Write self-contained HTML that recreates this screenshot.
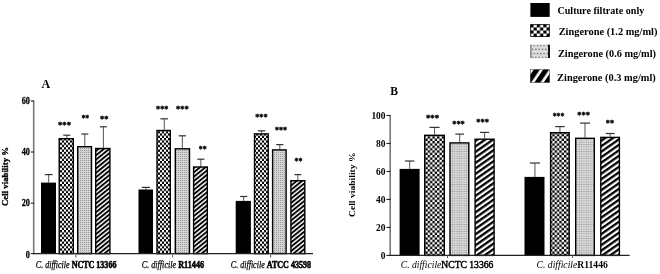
<!DOCTYPE html>
<html><head><meta charset="utf-8"><style>
html,body{margin:0;padding:0;background:#fff;}
body{width:660px;height:274px;overflow:hidden;font-family:"Liberation Serif",serif;}
svg{display:block;filter:blur(0.3px);}
</style></head><body>
<svg width="660" height="274" viewBox="0 0 660 274" font-family="Liberation Serif, serif">
<defs>
<pattern id="chkA" patternUnits="userSpaceOnUse" width="4" height="4.6" x="0" y="0"><rect width="4" height="4.6" fill="#fff"/><rect width="2" height="2.3" fill="#000"/><rect x="2" y="2.3" width="2" height="2.3" fill="#000"/></pattern>
<pattern id="chkB" patternUnits="userSpaceOnUse" width="4.7" height="4.7" x="0" y="0"><rect width="4.7" height="4.7" fill="#fff"/><rect width="2.35" height="2.35" fill="#000"/><rect x="2.35" y="2.35" width="2.35" height="2.35" fill="#000"/></pattern>
<pattern id="chkL" patternUnits="userSpaceOnUse" width="6.5" height="6.2" x="530.3" y="24.3"><rect width="6.5" height="6.2" fill="#fff"/><rect width="3.25" height="3.1" fill="#000"/><rect x="3.25" y="3.1" width="3.25" height="3.1" fill="#000"/></pattern>
<pattern id="dotA" patternUnits="userSpaceOnUse" width="2" height="2"><rect width="2" height="2" fill="#d4d4d4"/><rect width="1" height="1" fill="#9a9a9a"/></pattern>
<pattern id="dotB" patternUnits="userSpaceOnUse" width="2.35" height="2.35"><rect width="2.35" height="2.35" fill="#d9d9d9"/><circle cx="1.17" cy="1.17" r="0.62" fill="#8a8a8a"/></pattern>
<pattern id="dotL" patternUnits="userSpaceOnUse" width="3.3" height="8.2" x="530.2" y="44.6"><rect width="3.3" height="8.2" fill="#dedede"/><rect width="1.4" height="1.4" fill="#6a6a6a"/><rect x="1.65" y="4.1" width="1.4" height="1.4" fill="#6a6a6a"/></pattern>
<pattern id="strA" patternUnits="userSpaceOnUse" width="3.4" height="3.4" patternTransform="rotate(51)"><rect width="3.4" height="3.4" fill="#fff"/><rect width="1.9" height="3.4" fill="#000"/></pattern>
<pattern id="strB" patternUnits="userSpaceOnUse" width="4.5" height="4.5" patternTransform="rotate(55)"><rect width="4.5" height="4.5" fill="#fff"/><rect width="2.3" height="4.5" fill="#000"/></pattern>
<pattern id="strL" patternUnits="userSpaceOnUse" width="7.7" height="7.7" x="543.2" y="69.4" patternTransform="rotate(34 543.2 69.4)"><rect width="7.7" height="7.7" fill="#fff"/><rect width="5.1" height="7.7" fill="#000"/></pattern>
</defs>
<rect width="660" height="274" fill="#fff"/>
<g>
<line x1="48.7" y1="182.6" x2="48.7" y2="174.6" stroke="#555" stroke-width="1.0"/>
<line x1="44.8" y1="174.6" x2="52.6" y2="174.6" stroke="#333" stroke-width="1.2"/>
<rect x="41" y="182.6" width="15" height="71" fill="#000"/>
<line x1="66.8" y1="138" x2="66.8" y2="135.2" stroke="#555" stroke-width="1.0"/>
<line x1="63.3" y1="135.2" x2="70.3" y2="135.2" stroke="#333" stroke-width="1.2"/>
<rect x="59.2" y="138.7" width="14.1" height="114.9" fill="url(#chkA)" stroke="#000" stroke-width="1.4"/>
<text x="58" y="127.63" font-size="8.6" font-weight="bold" stroke="#000" stroke-width="0.35" textLength="13.1" lengthAdjust="spacingAndGlyphs">***</text>
<line x1="84.8" y1="146" x2="84.8" y2="134" stroke="#555" stroke-width="1.0"/>
<line x1="81.3" y1="134" x2="88.3" y2="134" stroke="#333" stroke-width="1.2"/>
<rect x="77.7" y="146.7" width="13.8" height="106.9" fill="url(#dotA)" stroke="#000" stroke-width="1.4"/>
<text x="81.4" y="120.63" font-size="8.6" font-weight="bold" stroke="#000" stroke-width="0.35" textLength="7.8" lengthAdjust="spacingAndGlyphs">**</text>
<line x1="103.4" y1="147.8" x2="103.4" y2="126.8" stroke="#555" stroke-width="1.0"/>
<line x1="99.9" y1="126.8" x2="106.9" y2="126.8" stroke="#333" stroke-width="1.2"/>
<rect x="95.7" y="148.5" width="14.2" height="105.1" fill="url(#strA)" stroke="#000" stroke-width="1.4"/>
<text x="100" y="121.73" font-size="8.6" font-weight="bold" stroke="#000" stroke-width="0.35" textLength="8.5" lengthAdjust="spacingAndGlyphs">**</text>
<line x1="145.9" y1="189.5" x2="145.9" y2="187.4" stroke="#555" stroke-width="1.0"/>
<line x1="141.8" y1="187.4" x2="150" y2="187.4" stroke="#333" stroke-width="1.2"/>
<rect x="138.5" y="189.5" width="14.5" height="64.1" fill="#000"/>
<line x1="164.25" y1="129.8" x2="164.25" y2="118.8" stroke="#555" stroke-width="1.0"/>
<line x1="160.4" y1="118.8" x2="168.1" y2="118.8" stroke="#333" stroke-width="1.2"/>
<rect x="157" y="130.5" width="13.3" height="123.1" fill="url(#chkA)" stroke="#000" stroke-width="1.4"/>
<text x="156" y="111.93" font-size="8.6" font-weight="bold" stroke="#000" stroke-width="0.35" textLength="12.4" lengthAdjust="spacingAndGlyphs">***</text>
<line x1="182.35" y1="148.1" x2="182.35" y2="135.8" stroke="#555" stroke-width="1.0"/>
<line x1="178.7" y1="135.8" x2="186" y2="135.8" stroke="#333" stroke-width="1.2"/>
<rect x="175.3" y="148.8" width="14.2" height="104.8" fill="url(#dotA)" stroke="#000" stroke-width="1.4"/>
<text x="175.9" y="112.13" font-size="8.6" font-weight="bold" stroke="#000" stroke-width="0.35" textLength="12.8" lengthAdjust="spacingAndGlyphs">***</text>
<line x1="200.85" y1="166.3" x2="200.85" y2="159.2" stroke="#555" stroke-width="1.0"/>
<line x1="197.3" y1="159.2" x2="204.4" y2="159.2" stroke="#333" stroke-width="1.2"/>
<rect x="193.6" y="167" width="13.7" height="86.6" fill="url(#strA)" stroke="#000" stroke-width="1.4"/>
<text x="198.7" y="152.43" font-size="8.6" font-weight="bold" stroke="#000" stroke-width="0.35" textLength="7.9" lengthAdjust="spacingAndGlyphs">**</text>
<line x1="243.65" y1="200.9" x2="243.65" y2="196.5" stroke="#555" stroke-width="1.0"/>
<line x1="240.1" y1="196.5" x2="247.2" y2="196.5" stroke="#333" stroke-width="1.2"/>
<rect x="235.7" y="200.9" width="15.2" height="52.7" fill="#000"/>
<line x1="261.6" y1="133.2" x2="261.6" y2="130.8" stroke="#555" stroke-width="1.0"/>
<line x1="257.9" y1="130.8" x2="265.3" y2="130.8" stroke="#333" stroke-width="1.2"/>
<rect x="254.5" y="133.9" width="13.7" height="119.7" fill="url(#chkA)" stroke="#000" stroke-width="1.4"/>
<text x="255.2" y="119.73" font-size="8.6" font-weight="bold" stroke="#000" stroke-width="0.35" textLength="12.5" lengthAdjust="spacingAndGlyphs">***</text>
<line x1="279.8" y1="149.2" x2="279.8" y2="144.6" stroke="#555" stroke-width="1.0"/>
<line x1="276.2" y1="144.6" x2="283.4" y2="144.6" stroke="#333" stroke-width="1.2"/>
<rect x="272.6" y="149.9" width="13.5" height="103.7" fill="url(#dotA)" stroke="#000" stroke-width="1.4"/>
<text x="274.9" y="132.83" font-size="8.6" font-weight="bold" stroke="#000" stroke-width="0.35" textLength="12.1" lengthAdjust="spacingAndGlyphs">***</text>
<line x1="297.85" y1="180" x2="297.85" y2="174.6" stroke="#555" stroke-width="1.0"/>
<line x1="294.4" y1="174.6" x2="301.3" y2="174.6" stroke="#333" stroke-width="1.2"/>
<rect x="290.9" y="180.7" width="13.9" height="72.9" fill="url(#strA)" stroke="#000" stroke-width="1.4"/>
<text x="294.5" y="164.43" font-size="8.6" font-weight="bold" stroke="#000" stroke-width="0.35" textLength="8" lengthAdjust="spacingAndGlyphs">**</text>
<line x1="33.7" y1="100.5" x2="33.7" y2="254.1" stroke="#777" stroke-width="1.6"/>
<line x1="33" y1="253.6" x2="313" y2="253.6" stroke="#222" stroke-width="1.1"/>
<line x1="30.8" y1="101" x2="34" y2="101" stroke="#222" stroke-width="1.1"/>
<text transform="translate(29.9,103.87) scale(0.86,1)" font-size="9.6" font-weight="bold" stroke="#000" stroke-width="0.25" text-anchor="end">60</text>
<line x1="30.8" y1="152" x2="34" y2="152" stroke="#222" stroke-width="1.1"/>
<text transform="translate(29.9,154.87) scale(0.86,1)" font-size="9.6" font-weight="bold" stroke="#000" stroke-width="0.25" text-anchor="end">40</text>
<line x1="30.8" y1="203.2" x2="34" y2="203.2" stroke="#222" stroke-width="1.1"/>
<text transform="translate(29.9,206.07) scale(0.86,1)" font-size="9.6" font-weight="bold" stroke="#000" stroke-width="0.25" text-anchor="end">20</text>
<line x1="30.8" y1="253.6" x2="34" y2="253.6" stroke="#222" stroke-width="1.1"/>
<text transform="translate(29.9,257.67) scale(0.86,1)" font-size="9.6" font-weight="bold" stroke="#000" stroke-width="0.25" text-anchor="end">0</text>
<line x1="75.8" y1="253.6" x2="75.8" y2="257.4" stroke="#555" stroke-width="1"/>
<line x1="172.7" y1="253.6" x2="172.7" y2="257.4" stroke="#555" stroke-width="1"/>
<line x1="270.6" y1="253.6" x2="270.6" y2="257.4" stroke="#555" stroke-width="1"/>
<text x="41.6" y="87.6" font-size="12" font-weight="bold">A</text>
<text transform="translate(8.2,206) rotate(-90)" font-size="7.6" font-weight="bold" stroke="#000" stroke-width="0.3" textLength="59" lengthAdjust="spacingAndGlyphs">Cell viability %</text>
<text x="35.8" y="267.6" font-size="9.8" textLength="80.6" lengthAdjust="spacingAndGlyphs"><tspan font-style="italic" stroke="#000" stroke-width="0.25">C. difficile </tspan><tspan font-weight="bold" stroke="#000" stroke-width="0.55">NCTC 13366</tspan></text>
<text x="141.7" y="267.6" font-size="9.8" textLength="62.4" lengthAdjust="spacingAndGlyphs"><tspan font-style="italic" stroke="#000" stroke-width="0.25">C. difficile </tspan><tspan font-weight="bold" stroke="#000" stroke-width="0.55">R11446</tspan></text>
<text x="230.8" y="267.6" font-size="9.8" textLength="80.2" lengthAdjust="spacingAndGlyphs"><tspan font-style="italic" stroke="#000" stroke-width="0.25">C. difficile </tspan><tspan font-weight="bold" stroke="#000" stroke-width="0.55">ATCC 43598</tspan></text>
</g>
<g>
<line x1="409.65" y1="168.9" x2="409.65" y2="161" stroke="#555" stroke-width="1.0"/>
<line x1="404.9" y1="161" x2="414.4" y2="161" stroke="#333" stroke-width="1.2"/>
<rect x="399.6" y="168.9" width="20" height="86.5" fill="#000"/>
<line x1="434.55" y1="134.6" x2="434.55" y2="127.4" stroke="#555" stroke-width="1.0"/>
<line x1="429.5" y1="127.4" x2="439.6" y2="127.4" stroke="#333" stroke-width="1.2"/>
<rect x="424.7" y="135.3" width="19.6" height="120.1" fill="url(#chkB)" stroke="#000" stroke-width="1.4"/>
<text x="425.9" y="121.33" font-size="8.6" font-weight="bold" stroke="#000" stroke-width="0.35" textLength="13.2" lengthAdjust="spacingAndGlyphs">***</text>
<line x1="459.7" y1="142.2" x2="459.7" y2="134.1" stroke="#555" stroke-width="1.0"/>
<line x1="455.3" y1="134.1" x2="464.1" y2="134.1" stroke="#333" stroke-width="1.2"/>
<rect x="450" y="142.9" width="18.8" height="112.5" fill="url(#dotB)" stroke="#000" stroke-width="1.4"/>
<text x="452.2" y="127.03" font-size="8.6" font-weight="bold" stroke="#000" stroke-width="0.35" textLength="12.6" lengthAdjust="spacingAndGlyphs">***</text>
<line x1="484.6" y1="138.5" x2="484.6" y2="132.4" stroke="#555" stroke-width="1.0"/>
<line x1="480" y1="132.4" x2="489.2" y2="132.4" stroke="#333" stroke-width="1.2"/>
<rect x="475.1" y="139.2" width="19" height="116.2" fill="url(#strB)" stroke="#000" stroke-width="1.4"/>
<text x="476.2" y="125.43" font-size="8.6" font-weight="bold" stroke="#000" stroke-width="0.35" textLength="12.7" lengthAdjust="spacingAndGlyphs">***</text>
<line x1="534.95" y1="176.9" x2="534.95" y2="163" stroke="#555" stroke-width="1.0"/>
<line x1="529.9" y1="163" x2="540" y2="163" stroke="#333" stroke-width="1.2"/>
<rect x="524.5" y="176.9" width="20" height="78.5" fill="#000"/>
<line x1="559.95" y1="132" x2="559.95" y2="126.6" stroke="#555" stroke-width="1.0"/>
<line x1="555.2" y1="126.6" x2="564.7" y2="126.6" stroke="#333" stroke-width="1.2"/>
<rect x="550.6" y="132.7" width="18.6" height="122.7" fill="url(#chkB)" stroke="#000" stroke-width="1.4"/>
<text x="552.7" y="118.83" font-size="8.6" font-weight="bold" stroke="#000" stroke-width="0.35" textLength="11.6" lengthAdjust="spacingAndGlyphs">***</text>
<line x1="585" y1="137.6" x2="585" y2="123.1" stroke="#555" stroke-width="1.0"/>
<line x1="580" y1="123.1" x2="590" y2="123.1" stroke="#333" stroke-width="1.2"/>
<rect x="575.7" y="138.3" width="18.6" height="117.1" fill="url(#dotB)" stroke="#000" stroke-width="1.4"/>
<text x="577.3" y="117.83" font-size="8.6" font-weight="bold" stroke="#000" stroke-width="0.35" textLength="12.7" lengthAdjust="spacingAndGlyphs">***</text>
<line x1="610.15" y1="136.7" x2="610.15" y2="133.5" stroke="#555" stroke-width="1.0"/>
<line x1="605.7" y1="133.5" x2="614.6" y2="133.5" stroke="#333" stroke-width="1.2"/>
<rect x="600.8" y="137.4" width="18.6" height="118" fill="url(#strB)" stroke="#000" stroke-width="1.4"/>
<text x="605.8" y="125.73" font-size="8.6" font-weight="bold" stroke="#000" stroke-width="0.35" textLength="8.3" lengthAdjust="spacingAndGlyphs">**</text>
<line x1="390.2" y1="115" x2="390.2" y2="255.9" stroke="#777" stroke-width="1.6"/>
<line x1="389.5" y1="255.4" x2="629.7" y2="255.4" stroke="#222" stroke-width="1.1"/>
<line x1="386.4" y1="255.4" x2="390.5" y2="255.4" stroke="#222" stroke-width="1.1"/>
<text transform="translate(385.5,258.93) scale(0.96,1)" font-size="9.8" font-weight="bold" stroke="#000" stroke-width="0" text-anchor="end">0</text>
<line x1="386.4" y1="227.42" x2="390.5" y2="227.42" stroke="#222" stroke-width="1.1"/>
<text transform="translate(385.5,230.95) scale(0.96,1)" font-size="9.8" font-weight="bold" stroke="#000" stroke-width="0" text-anchor="end">20</text>
<line x1="386.4" y1="199.44" x2="390.5" y2="199.44" stroke="#222" stroke-width="1.1"/>
<text transform="translate(385.5,202.97) scale(0.96,1)" font-size="9.8" font-weight="bold" stroke="#000" stroke-width="0" text-anchor="end">40</text>
<line x1="386.4" y1="171.46" x2="390.5" y2="171.46" stroke="#222" stroke-width="1.1"/>
<text transform="translate(385.5,174.99) scale(0.96,1)" font-size="9.8" font-weight="bold" stroke="#000" stroke-width="0" text-anchor="end">60</text>
<line x1="386.4" y1="143.48" x2="390.5" y2="143.48" stroke="#222" stroke-width="1.1"/>
<text transform="translate(385.5,147.01) scale(0.96,1)" font-size="9.8" font-weight="bold" stroke="#000" stroke-width="0" text-anchor="end">80</text>
<line x1="386.4" y1="115.5" x2="390.5" y2="115.5" stroke="#222" stroke-width="1.1"/>
<text transform="translate(385.5,119.03) scale(0.96,1)" font-size="9.8" font-weight="bold" stroke="#000" stroke-width="0" text-anchor="end">100</text>
<line x1="447.5" y1="255.4" x2="447.5" y2="258" stroke="#555" stroke-width="1"/>
<line x1="572.6" y1="255.4" x2="572.6" y2="258" stroke="#555" stroke-width="1"/>
<text x="390.2" y="95.1" font-size="11.6" font-weight="bold">B</text>
<text transform="translate(355.0,217.0) rotate(-90)" font-size="8.2" font-weight="bold" textLength="64.6" lengthAdjust="spacingAndGlyphs">Cell viability %</text>
<text x="400.8" y="268" font-size="9.6" textLength="92.5" lengthAdjust="spacingAndGlyphs"><tspan font-style="italic">C. difficile</tspan><tspan stroke="#000" stroke-width="0.45">NCTC 13366</tspan></text>
<text x="536.6" y="267.7" font-size="9.6" textLength="71.2" lengthAdjust="spacingAndGlyphs"><tspan font-style="italic">C. difficile</tspan><tspan font-weight="bold">R11446</tspan></text>
</g>
<g>
<rect x="530.4" y="3" width="19.3" height="13.9" fill="#000"/>
<rect x="530.3" y="24.3" width="19.4" height="12.5" fill="url(#chkL)"/><rect x="530.7" y="24.7" width="18.6" height="11.7" fill="none" stroke="#000" stroke-width="0.8"/>
<rect x="530.2" y="44.6" width="19.6" height="13.6" fill="url(#dotL)"/>
<line x1="549" y1="44.8" x2="549" y2="58.1" stroke="#000" stroke-width="1.8"/>
<line x1="530.9" y1="44.8" x2="530.9" y2="58.1" stroke="#888" stroke-width="1.5"/>
<rect x="530" y="69.4" width="19.8" height="13.3" fill="url(#strL)"/><rect x="530.3" y="69.7" width="19.2" height="12.7" fill="none" stroke="#555" stroke-width="0.6"/>
<text x="557.4" y="13.5" font-size="11" font-weight="bold" textLength="86.9" lengthAdjust="spacingAndGlyphs">Culture filtrate only</text>
<text x="558.7" y="34.9" font-size="11" font-weight="bold" textLength="98.7" lengthAdjust="spacingAndGlyphs">Zingerone (1.2 mg/ml)</text>
<text x="557.9" y="57.2" font-size="11" font-weight="bold" textLength="98.1" lengthAdjust="spacingAndGlyphs">Zingerone (0.6 mg/ml)</text>
<text x="557.1" y="80.9" font-size="11" font-weight="bold" textLength="98.7" lengthAdjust="spacingAndGlyphs">Zingerone (0.3 mg/ml)</text>
</g>
</svg>
</body></html>
